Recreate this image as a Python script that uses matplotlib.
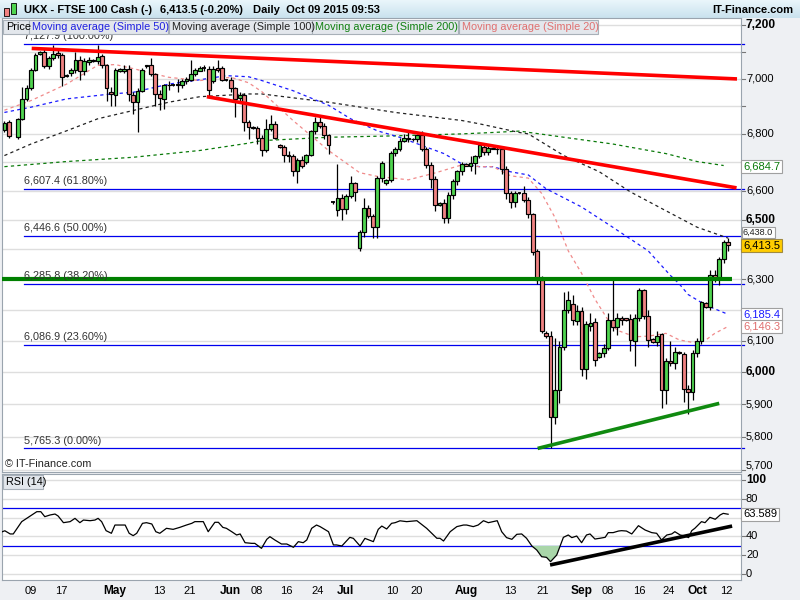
import numpy as np
import matplotlib
matplotlib.use("Agg")
import matplotlib.pyplot as plt
import matplotlib.transforms as mtransforms
from matplotlib.patches import Rectangle

plt.rcParams['font.family'] = ['Liberation Sans', 'DejaVu Sans']

# ---------------- data ----------------
# daily candles (index 0 .. 163), None = no candle
ohlc = [
 (6815,6845,6805,6838),(6844,6850,6785,6791),None,(6788,6858,6782,6854),
 (6854,6968,6848,6927),(6927,6975,6920,6966),(6966,7040,6958,7033),(7033,7095,7028,7087),
 (7090,7102,7086,7099),(7098,7110,7038,7045),(7045,7085,7035,7078),(7078,7125,7070,7090),
 (7094,7105,7078,7088),(7087,7095,6974,7007),(7010,7016,7005,7013),(7020,7040,7010,7032),
 (7033,7100,7020,7070),(7070,7085,6996,7030),(7030,7078,7015,7065),(7062,7080,7050,7068),
 (7068,7072,7062,7066),(7065,7125,7055,7080),(7083,7092,7040,7050),(7050,7055,6920,6965),
 (6950,6968,6900,6945),(6942,7040,6900,7033),(7030,7038,7026,7035),(7028,7050,7020,7037),
 (7037,7052,6920,6945),(6942,6950,6870,6914),(6914,6965,6808,6956),(6956,7040,6950,7033),
 (7045,7052,7040,7049),(7049,7075,7010,7016),(7016,7022,6900,6945),(6944,6960,6884,6928),
 (6927,6982,6890,6975),(6975,6990,6960,6978),(6976,6980,6972,6975),(6975,7000,6950,6980),
 (6978,6998,6965,6993),(6990,7005,6980,6998),(6996,7069,6990,7018),(7018,7040,7010,7033),
 (7030,7045,7028,7040),(7040,7050,7030,7040),(7037,7045,6937,6958),(6990,7045,6985,7037),
 (7040,7070,7025,7032),(7040,7045,6990,6996),(6996,7000,6990,6996),(6996,7005,6950,6965),
 (6965,6970,6862,6927),(6928,6950,6915,6942),(6942,6948,6812,6844),(6844,6850,6780,6824),
 (6826,6830,6818,6822),(6822,6830,6763,6787),(6787,6795,6722,6741),(6744,6853,6735,6818),
 (6818,6869,6810,6836),(6836,6845,6780,6787),(6760,6765,6750,6754),(6754,6760,6700,6726),
 (6726,6740,6700,6720),(6723,6730,6650,6669),(6669,6715,6628,6707),(6707,6720,6680,6688),
 (6700,6730,6695,6726),(6726,6815,6720,6809),(6809,6859,6800,6841),(6841,6860,6820,6830),
 (6829,6840,6780,6795),(6795,6800,6730,6760),(6560,6565,6555,6561),(6535,6693,6513,6576),
 (6576,6590,6500,6537),(6537,6590,6520,6583),(6583,6650,6575,6626),(6626,6630,6565,6597),
 (6405,6465,6395,6459),(6459,6574,6443,6540),(6540,6550,6505,6514),(6514,6520,6440,6476),
 (6476,6650,6440,6646),(6646,6705,6630,6697),(6628,6640,6620,6638),(6638,6740,6630,6731),
 (6731,6755,6720,6748),(6748,6785,6740,6776),(6776,6800,6770,6787),(6787,6810,6770,6780),
 (6780,6785,6775,6782),(6780,6800,6770,6795),(6795,6810,6740,6748),(6748,6755,6680,6690),
 (6690,6700,6610,6641),(6641,6650,6530,6552),(6552,6560,6548,6558),(6558,6570,6490,6507),
 (6507,6595,6490,6586),(6586,6640,6570,6634),(6634,6672,6620,6669),(6669,6700,6655,6694),
 (6694,6698,6685,6688),(6688,6720,6670,6697),(6697,6725,6660,6720),(6722,6770,6715,6760),
 (6752,6765,6725,6735),(6735,6760,6725,6750),(6750,6755,6745,6748),(6748,6760,6730,6745),
 (6745,6755,6660,6677),(6677,6685,6570,6592),(6592,6600,6540,6560),(6560,6600,6545,6592),
 (6592,6596,6588,6592),(6592,6615,6560,6569),(6569,6580,6505,6521),(6521,6525,6380,6390),
 (6395,6400,6285,6297),(6297,6310,6125,6131),(6126,6130,6110,6115),(6115,6130,5765,5862),
 (5862,6110,5840,5946),(5946,6100,5905,6081),(6081,6260,6070,6199),(6201,6262,6190,6233),
 (6220,6250,6150,6166),(6164,6215,6150,6197),(6197,6210,5990,6010),(6010,6165,5980,6153),
 (6147,6190,6130,6158),(6160,6175,6020,6040),(6049,6065,6045,6061),(6061,6090,6050,6077),
 (6077,6190,6070,6166),(6168,6297,6130,6144),(6144,6190,6120,6175),(6175,6180,6150,6168),
 (6172,6175,6165,6168),(6171,6185,6066,6103),(6101,6185,6019,6175),(6175,6270,6165,6264),
 (6264,6268,6170,6179),(6179,6200,6080,6103),(6106,6110,6092,6095),(6095,6130,6085,6117),
 (6121,6125,5890,5946),(5946,6045,5900,6036),(6036,6100,6020,6028),(6028,6080,6010,6063),
 (6063,6066,6058,6060),(6059,6065,5907,5948),(5948,5960,5870,5939),(5939,6070,5915,6061),
 (6061,6110,6050,6101),(6101,6230,6090,6226),(6222,6225,6205,6210),(6210,6330,6200,6316),
 (6316,6330,6290,6300),(6300,6375,6280,6369),(6369,6430,6355,6424),(6424,6440,6395,6413.5),
]

sma20_idx = [0,6,14,21,25,29,37,44,51,55,58,65,73,80,84,91,97,103,107,110,114,118,121,124,127,130,133,136,138,142,145,149,152,155,158,160,163]
sma20_val = [6885,6920,6980,7049,7052,7037,7005,6993,7005,6985,6952,6848,6741,6663,6650,6638,6662,6690,6684,6684,6652,6644,6591,6508,6395,6320,6235,6166,6134,6113,6115,6124,6103,6095,6103,6124,6146.3]
sma50_idx = [0,6,14,24,29,37,44,50,55,58,65,73,78,84,89,94,99,103,107,110,114,118,122,130,137,145,150,152,154,158,163]
sma50_val = [6877,6896,6926,6944,6950,6980,6996,7011,7007,6993,6956,6903,6854,6811,6788,6759,6730,6694,6684,6684,6666,6655,6607,6544,6475,6395,6313,6285,6250,6215,6185.4]
sma100_idx = [0,6,14,21,29,37,44,55,58,73,88,103,107,116,118,126,134,141,149,156,163]
sma100_val = [6723,6764,6811,6854,6884,6914,6934,6944,6944,6914,6877,6848,6836,6805,6800,6723,6666,6596,6531,6475,6438]
sma200_idx = [0,14,29,44,55,58,73,88,103,110,116,126,137,149,156,162]
sma200_val = [6684,6702,6717,6741,6767,6776,6788,6793,6800,6805,6810,6788,6764,6730,6702,6688]

rsi_idx = [-1,0.1,1.3,2,3.9,5.8,7.3,8.2,9.1,10.3,11.4,12.1,13.3,14.8,15.9,17,17.8,19.3,20.4,21.1,21.9,22.9,24.1,24.9,26.4,27.2,28.1,29,29.8,31.1,32,33.2,34.1,35,36.5,38,39.5,41,42.2,42.9,44.8,45.9,47.4,48.2,49.2,50,51.2,52.3,53.1,54.2,55.7,56.4,57.9,59.1,59.8,60.9,62.4,63.6,65.1,66.2,67.3,68.1,69.2,70.3,71.1,73,74.1,74.8,76,77.8,78.6,80.1,81.2,83.1,84.2,85,86.1,87.2,88,89.1,90.6,92.9,95.1,97.4,98.1,98.9,100.4,101.9,103.4,104.1,105.6,106.7,107.9,109,110.1,111,112,113.1,114.3,115.4,116.5,117.6,118.8,119.9,121,122.1,123,124.4,125.9,127,127.8,128.9,130,131.1,131.9,133,134.1,135.3,136,137.1,138.3,139,140.1,141.3,142.8,144.3,145.8,146.9,148,149.2,150.3,151,152.2,153.3,154.1,154.8,155.5,157,157.8,158.9,160.1,161.2,161.9,163]
rsi_val = [44,46,42.6,42.6,55.7,61.7,66.3,66.3,61,62.8,63.8,61.7,54.6,55.7,59.2,54.6,57.4,56.7,57.4,59.2,55.7,46.1,43.3,52.1,52.1,52.1,43.3,40.8,43.3,53.9,54.6,53.2,45,43.3,48.6,47.5,49.6,52.1,53.9,55.7,55.7,45,55,55,49.6,48.6,45,41.5,42.6,33.3,32.6,32.6,27.3,36.9,39.7,36.2,31.9,31.9,28.4,34.4,33.3,36.2,48.6,52.1,50.4,45,30.9,30.9,29.8,39,37.9,29.8,37.9,34.4,47.5,51,47.9,53.9,54.6,56.6,55.7,56.7,48.6,38,38,35.1,45,50.4,52.1,52.1,50.4,52.1,56.7,54.6,55.7,56.7,45,38.7,36.9,42.2,42.6,38,29.8,25.5,18.4,17.7,13.1,20.2,39,41.5,38.7,40.4,33.3,41.5,42.6,37.2,38,39,44,44,45.7,46.1,45.7,42.6,51.4,46.8,44,43.3,36.2,41.5,42.6,45,41.5,40.4,38.7,46.1,48.6,55.7,54.6,60.3,58.2,62.8,64.5,63.589]

fib_levels = [7127.9, 6607.4, 6446.6, 6285.8, 6086.9, 5765.3]
fib_texts = ["7,127.9 (100.00%)", "6,607.4 (61.80%)", "6,446.6 (50.00%)",
             "6,285.8 (38.20%)", "6,086.9 (23.60%)", "5,765.3 (0.00%)"]

red_upper = ([6.15, 165.0], [7112, 6999])
red_lower = ([45.6, 164.9], [6934, 6610])
green_level = 6300
green_support = ([120.1, 161.0], [5765, 5903])
rsi_trend = ([122.9, 163.9], [9.6, 51])

xtick_pos = [6.0,12.7,24.9,35.0,41.8,51.0,56.9,63.6,70.6,76.9,87.3,92.9,104,113.9,121.3,130.1,135.9,142.9,149.7,156,162.5]
xtick_lab = ["09","17","May","13","21","Jun","08","16","24","Jul","10","20","Aug","13","21","Sep","08","16","24","Oct","12"]
month_labels = {"May","Jun","Jul","Aug","Sep","Oct"}

price_ticks = [7200,7000,6800,6600,6500,6300,6100,6000,5900,5800,5700]
bold_ticks = {7200, 6500, 6000}
rsi_ticks = [100, 80, 40, 20, 0]

last_price = 6413.5
last_rsi = 63.589

# ---------------- figure ----------------
W, H = 800, 600
fig = plt.figure(figsize=(8, 6), dpi=100, facecolor='#eef0f3')

def fb(x0, y0, x1, y1):
    return [x0 / W, 1 - y1 / H, (x1 - x0) / W, (y1 - y0) / H]

UP, DN = '#4fd44f', '#f08282'
FRAME = '#9aa4ae'

# header
hax = fig.add_axes(fb(0, 0, 800, 18))
grad = np.linspace(0, 1, 50).reshape(-1, 1)
hax.imshow(grad, aspect='auto', cmap=matplotlib.colors.LinearSegmentedColormap.from_list('g', ['#eaf6fb', '#c9e2ee']),
           extent=[0, 1, 0, 1])
hax.set_axis_off()
fig.text(24 / W, 1 - 10 / H, "UKX - FTSE 100 Cash (-)", fontsize=8, fontweight='bold', va='center', ha='left')
fig.text(160 / W, 1 - 10 / H, "6,413.5 (-0.20%)", fontsize=8, fontweight='bold', va='center', ha='left')
fig.text(253 / W, 1 - 10 / H, "Daily  Oct 09 2015 09:53", fontsize=8, fontweight='bold', va='center', ha='left')
fig.text(793 / W, 1 - 10 / H, "IT-Finance.com", fontsize=8, fontweight='bold', va='center', ha='right')
# icon
fig.patches.append(Rectangle((4 / W, 1 - 16 / H), 5 / W, 8 / H, transform=fig.transFigure,
                             facecolor=DN, edgecolor='k', lw=0.6))
fig.patches.append(Rectangle((11 / W, 1 - 14 / H), 5 / W, 11 / H, transform=fig.transFigure,
                             facecolor=UP, edgecolor='k', lw=0.6))

# ---------------- main axes ----------------
ax = fig.add_axes(fb(2, 18, 741, 472))
ax.set_facecolor('white')
ax.set_yscale('log')
y_top = 7200 * np.exp(7 / 1905)
y_bot = 7200 * np.exp(-447 / 1905)
ax.set_ylim(y_bot, y_top)
ax.set_xlim(-0.54, 165.9)
ax.yaxis.set_major_locator(matplotlib.ticker.NullLocator())
ax.yaxis.set_minor_locator(matplotlib.ticker.NullLocator())
ax.xaxis.set_major_locator(matplotlib.ticker.NullLocator())
for s in ax.spines.values():
    s.set_color(FRAME)

for p in range(5700, 7300, 100):
    ax.axhline(p, color='#dedede', lw=1.0, zorder=0)

# fib lines
for lev, txt in zip(fib_levels, fib_texts):
    ax.plot([4.4, 166.5], [lev, lev], color='#0000ee', lw=0.9, zorder=1, clip_on=False)
    ax.annotate(txt, (4.4, lev), xytext=(0, 2), textcoords='offset points', fontsize=7.8,
                color='#333333', va='bottom', ha='left', zorder=6)

# moving averages
dash = (0, (2.6, 2.6))
ax.plot(sma200_idx, sma200_val, color='#0a7a0a', lw=0.9, ls=dash, zorder=2)
ax.plot(sma100_idx, sma100_val, color='#222222', lw=0.9, ls=dash, zorder=2)
ax.plot(sma50_idx, sma50_val, color='#1a1aff', lw=0.9, ls=dash, zorder=2)
ax.plot(sma20_idx, sma20_val, color='#f08a8a', lw=0.9, ls=dash, zorder=2)

# candles
bw = 0.84
for i, d in enumerate(ohlc):
    if d is None:
        continue
    op, hi, lo, cl = d
    col = UP if cl >= op else DN
    ax.vlines(i, lo, hi, color='black', lw=0.9, zorder=3)
    b0, b1 = min(op, cl), max(op, cl)
    if b1 - b0 < 1.5:
        ax.hlines((b0 + b1) / 2, i - bw / 2, i + bw / 2, color='black', lw=1.3, zorder=4)
    else:
        ax.add_patch(Rectangle((i - bw / 2, b0), bw, b1 - b0, facecolor=col,
                               edgecolor='black', lw=0.85, zorder=4))

# trend lines
ax.plot(*red_upper, color='#ff0000', lw=2.6, zorder=5, solid_capstyle='butt')
ax.plot(*red_lower, color='#ff0000', lw=2.6, zorder=5, solid_capstyle='butt')
ax.plot([-0.6, 163.9], [green_level, green_level], color='#008000', lw=3.0, zorder=5, solid_capstyle='butt')
ax.plot(*green_support, color='#108a10', lw=2.6, zorder=5, solid_capstyle='butt')

ax.text(3 / 739, 3 / 454, "\u00a9 IT-Finance.com", transform=ax.transAxes, fontsize=7.8,
        va='bottom', ha='left', color='#222222')

# right axis ticks / labels
btr = mtransforms.blended_transform_factory(ax.transAxes, ax.transData)
for p in range(5700, 7300, 100):
    ax.plot([1.0, 1.0 + 4 / 739], [p, p], transform=btr, color='#777777', lw=0.8, clip_on=False)
for p in price_ticks:
    lab = f"{p:,}"
    if p in bold_ticks:
        ax.text(1.0 + 5 / 739, p, lab, transform=btr, fontsize=8.6, fontweight='bold',
                va='center', ha='left', clip_on=False)
    elif p == 5700:
        ax.text(1.0 + 5 / 739, p, lab, transform=btr, fontsize=8, va='bottom', ha='left', clip_on=False)
    else:
        ax.text(1.0 + 5 / 739, p, lab, transform=btr, fontsize=8, va='center', ha='left', clip_on=False)

def vbox(val, color, fc='white', ec='#a0a0a0', shown=None, fs=8):
    ax.text(1.0 + 2 / 739, val if shown is None else shown, f"{val:,.1f}", transform=btr, fontsize=fs,
            color=color, va='center', ha='left', clip_on=False, zorder=10,
            bbox=dict(boxstyle='square,pad=0.15', facecolor=fc, edgecolor=ec, lw=0.8))

vbox(sma200_val[-1] - 3.3, '#0a7a0a')
# SMA100 value box sits just above the current-price box
vbox(sma100_val[-1], '#222222', shown=7200 * np.exp(-207.5 / 1905), fs=6.6)
vbox(last_price, 'black', fc='#ffcc00', ec='#a08a40')
vbox(sma50_val[-1], '#1a1aff')
vbox(sma20_val[-1], '#e07070')

# ---------------- legend row ----------------
legend = [("Price", 3, 29, 'black'), ("Moving average (Simple 50)", 29, 168, '#2020e0'),
          ("Moving average (Simple 100)", 169, 312, '#222222'),
          ("Moving average (Simple 200)", 312, 458, '#108010'),
          ("Moving average (Simple 20)", 459, 598, '#e07070')]
for txt, x0, x1, col in legend:
    fig.patches.append(Rectangle((x0 / W, 1 - 34 / H), (x1 - x0) / W, 14 / H, transform=fig.transFigure,
                                 facecolor='#e3e7ec', edgecolor='#a8b0b8', lw=0.8, zorder=8))
    fig.text((x0 + 3) / W, 1 - 27 / H, txt, fontsize=7.8, color=col, va='center', ha='left', zorder=9)

# ---------------- RSI axes ----------------
ax2 = fig.add_axes(fb(2, 474, 741, 580))
ax2.set_facecolor('white')
ax2.set_xlim(-0.54, 165.9)
ax2.set_ylim(-6.4, 106.4)
ax2.set_xticks([])
ax2.set_yticks([])
for s in ax2.spines.values():
    s.set_color(FRAME)
for g in [0, 20, 40, 60, 80, 100]:
    ax2.axhline(g, color='#dedede', lw=1.0, zorder=0)
ax2.axhline(30, color='#0000ee', lw=0.9, zorder=1)
ax2.axhline(70, color='#0000ee', lw=0.9, zorder=1)
r = np.array(rsi_val)
ri = np.array(rsi_idx)
ax2.fill_between(ri, r, 30, where=r < 30, interpolate=True, color='#a9d6a9', zorder=2, lw=0)
ax2.plot(ri, r, color='black', lw=0.9, zorder=3)
ax2.plot(*rsi_trend, color='black', lw=2.6, zorder=4, solid_capstyle='butt')

btr2 = mtransforms.blended_transform_factory(ax2.transAxes, ax2.transData)
for g in [0, 20, 40, 60, 80, 100]:
    ax2.plot([1.0, 1.0 + 4 / 739], [g, g], transform=btr2, color='#777777', lw=0.8, clip_on=False)
for g in rsi_ticks:
    if g == 100:
        ax2.text(1.0 + 5 / 739, g, str(g), transform=btr2, fontsize=8.6, fontweight='bold',
                 va='center', ha='left', clip_on=False)
    else:
        ax2.text(1.0 + 5 / 739, g, str(g), transform=btr2, fontsize=8, va='center', ha='left', clip_on=False)
ax2.text(1.0 + 2 / 739, last_rsi, f"{last_rsi:.3f}", transform=btr2, fontsize=8, va='center', ha='left',
         clip_on=False, zorder=10, bbox=dict(boxstyle='square,pad=0.15', facecolor='white', edgecolor='#a0a0a0', lw=0.8))

fig.patches.append(Rectangle((3 / W, 1 - 489 / H), 40 / W, 14 / H, transform=fig.transFigure,
                             facecolor='#e3e7ec', edgecolor='#a8b0b8', lw=0.8, zorder=8))
fig.text(6 / W, 1 - 482 / H, "RSI (14)", fontsize=7.8, va='center', ha='left', zorder=9)

# x labels
btx = mtransforms.blended_transform_factory(ax2.transData, fig.transFigure)
for pos, lab in zip(xtick_pos, xtick_lab):
    ax2.text(pos, 1 - 591 / H, lab, transform=btx, fontsize=8.6 if lab in month_labels else 8,
             fontweight='bold' if lab in month_labels else 'normal', ha='center', va='center', clip_on=False)

fig.savefig("out.png", dpi=100, facecolor=fig.get_facecolor())
